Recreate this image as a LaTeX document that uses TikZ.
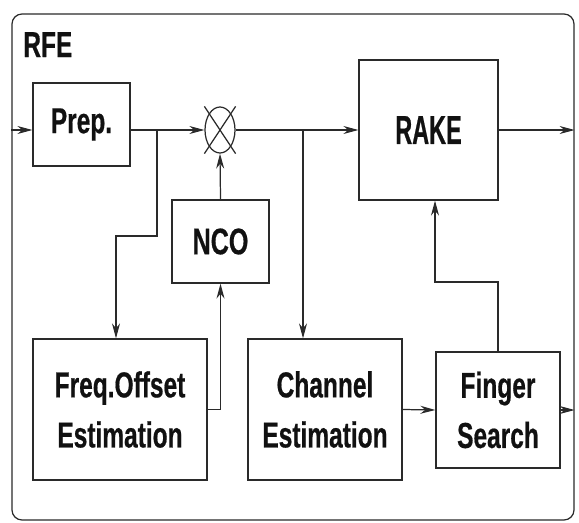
\documentclass[tikz,border=0pt]{standalone}
\usepackage{fontspec}
\newfontfamily\rfefont[FakeStretch=0.68,FakeBold=0.5]{Liberation Sans}
\newfontfamily\rakefont[FakeStretch=0.58,FakeBold=0.5]{Liberation Sans}
\usepackage{tikz}
\usetikzlibrary{arrows.meta,shapes.geometric}
\definecolor{rfeink}{HTML}{111111}
\definecolor{rfeline}{HTML}{2A2A2A}

\begin{document}
\begin{tikzpicture}[x=1cm,y=1cm,
  blk/.style={draw=rfeline, line width=0.7pt, inner sep=0pt, align=center,
    text=rfeink, font=\rfefont\bfseries\fontsize{20.5}{28.5}\selectfont},
  sig/.style={draw=rfeline, line width=0.7pt, -{Stealth[length=0.3cm,width=0.16cm]}}]
  \useasboundingbox (0,0) rectangle (11.58,10.44);

  % Frame
  \node[draw=rfeline, line width=0.7pt, rounded corners=0.2cm, minimum width=11.24cm,
    minimum height=10.12cm, inner sep=0pt] (frame) at (5.86,5.10) {};
  \node[anchor=base west, inner sep=0pt, text=rfeink,
    font=\rfefont\bfseries\fontsize{20.5}{24}\selectfont] (title) at (0.46,9.30) {RFE};

  % Blocks
  \node[blk, minimum width=1.94cm, minimum height=1.66cm] (prep) at (1.63,7.95) {Prep.};
  \node[draw=rfeline, line width=0.7pt, ellipse, inner sep=0pt,
    minimum width=0.60cm, minimum height=0.92cm] (mix) at (4.40,7.84) {};
  \draw[rfeline, line width=0.7pt] (mix.north -| mix.west) -- (mix.south -| mix.east);
  \draw[rfeline, line width=0.7pt] (mix.north -| mix.east) -- (mix.south -| mix.west);
  \node[blk, minimum width=1.94cm, minimum height=1.66cm,
    font=\rfefont\bfseries\fontsize{21}{24}\selectfont] (nco) at (4.41,5.61) {NCO};
  \node[blk, minimum width=2.78cm, minimum height=2.80cm,
    font=\rakefont\bfseries\fontsize{23}{26}\selectfont] (rake) at (8.57,7.84) {RAKE};
  \node[blk, minimum width=3.48cm, minimum height=2.82cm] (freq) at (2.40,2.25) {Freq.Offset\\Estimation};
  \node[blk, minimum width=3.08cm, minimum height=2.82cm] (chan) at (6.50,2.25) {Channel\\Estimation};
  \node[blk, minimum width=2.48cm, minimum height=2.32cm] (finger) at (9.96,2.24) {Finger\\Search};

  % Taps and bends
  \coordinate (tap1) at (3.14,7.84);
  \coordinate (bend1) at (2.32,5.72);
  \coordinate (tap2) at (6.06,7.84);
  \coordinate (bend2) at (8.70,4.80);

  % Signal path
  \draw[sig] (frame.west |- mix) -- (prep.west |- mix);
  \draw[sig] (prep.east |- mix) -- (mix.west);
  \draw[sig] (mix.east) -- (rake.west);
  \draw[sig] (rake.east) -- (rake.east -| frame.east);

  % Frequency loop
  \draw[sig] (tap1) |- (bend1) -- (bend1 |- freq.north);
  \draw[sig] (freq.east) -| (nco.south);
  \draw[sig] (nco.north) -- (mix.south);

  % Channel and finger search
  \draw[sig] (tap2) -- (tap2 |- chan.north);
  \draw[sig] (chan.east) -- (finger.west);
  \draw[sig] (finger.north) |- (bend2) -- (bend2 |- rake.south);
  \draw[sig] (finger.east) -- (finger.east -| frame.east);
\end{tikzpicture}
\end{document}
